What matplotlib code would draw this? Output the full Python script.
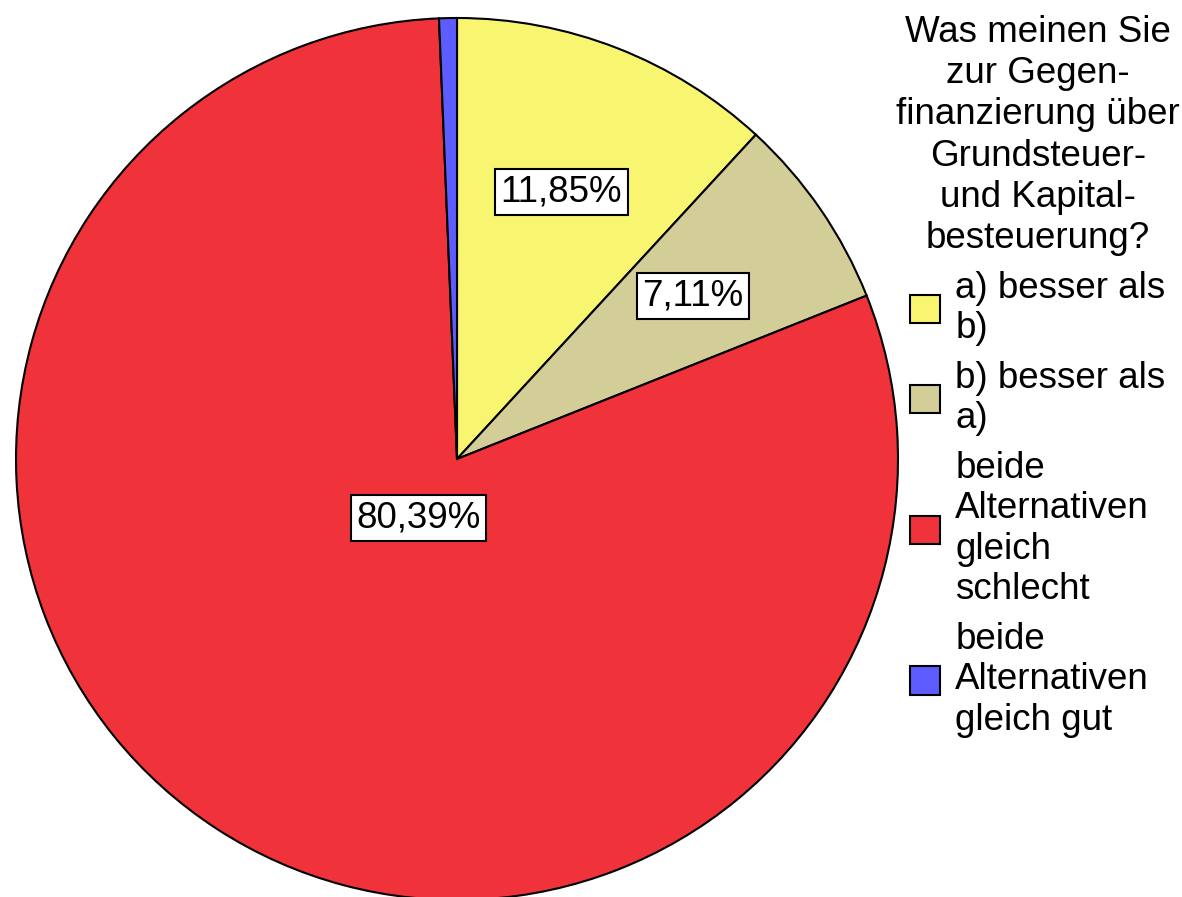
import numpy as np
import matplotlib
matplotlib.use("Agg")
import matplotlib.pyplot as plt

plt.rcParams["font.family"] = ["Liberation Sans", "DejaVu Sans"]

# Anteile in Prozent (im Uhrzeigersinn ab 12 Uhr)
categories = ["a) besser als\nb)", "b) besser als\na)",
              "beide\nAlternativen\ngleich\nschlecht",
              "beide\nAlternativen\ngleich gut"]
shares = [11.85, 7.11, 80.39, 0.65]
labels = ["11,85%", "7,11%", "80,39%", None]
colors = ["#F8F570", "#D3CD98", "#F0323A", "#5D5DFF"]
label_radius = [0.65, 0.65, 0.16, 0.65]
legend_title = "Was meinen Sie\nzur Gegen-\nfinanzierung über\nGrundsteuer-\nund Kapital-\nbesteuerung?"

W, H = 1182, 897
fig = plt.figure(figsize=(W / 100, H / 100), dpi=100)

# Kreis: Mittelpunkt (457, 459) px, Radius 441 px
cx, cy, r = 457, 459, 441
ax = fig.add_axes([(cx - r) / W, (H - cy - r) / H, 2 * r / W, 2 * r / H])
wedges, _ = ax.pie(shares, colors=colors, startangle=90, counterclock=False,
                   wedgeprops=dict(edgecolor="black", linewidth=1.5))
ax.set_xlim(-1, 1)
ax.set_ylim(-1, 1)
ax.set_aspect("equal")

fs = 26.5
for w, lab, rr in zip(wedges, labels, label_radius):
    if lab is None:
        continue
    ang = np.deg2rad((w.theta1 + w.theta2) / 2)
    ax.text(rr * np.cos(ang), rr * np.sin(ang), lab, ha="center", va="center",
            fontsize=fs, bbox=dict(boxstyle="square,pad=0.15", fc="white",
                                   ec="black", lw=1.5))

leg = fig.legend(wedges, categories, title=legend_title, loc="upper left",
                 bbox_to_anchor=(896 / W, 1 - 15 / H), frameon=False,
                 fontsize=fs, title_fontsize=fs, handlelength=0.8,
                 handleheight=0.8, handletextpad=0.42, labelspacing=0.4,
                 borderpad=0, borderaxespad=0, alignment="center")
leg.get_title().set_multialignment("center")
leg.get_title().set_linespacing(1.23)
for t in leg.get_texts():
    t.set_linespacing(1.2)

fig.savefig("out.png", dpi=100)
